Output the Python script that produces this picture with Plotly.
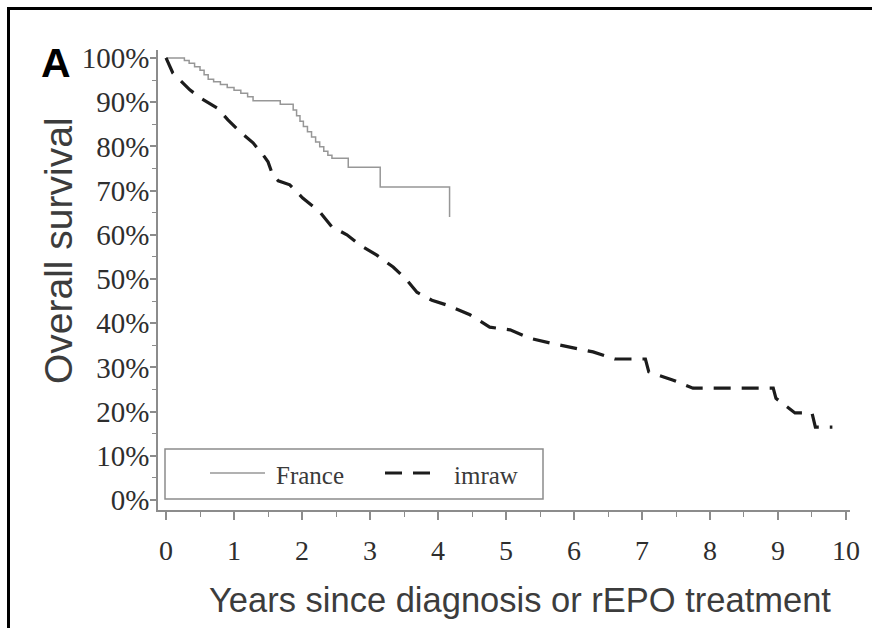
import plotly.graph_objects as go

# France: Kaplan-Meier steps, time (years) of each drop and survival (%) from then on
france_years = [0, 0.27, 0.34, 0.42, 0.50, 0.56, 0.62, 0.70, 0.80, 0.90, 1.00, 1.10, 1.20, 1.28,
                1.68, 1.87, 1.92, 1.97, 2.02, 2.08, 2.14, 2.20, 2.26, 2.32, 2.38, 2.44, 2.68,
                3.15, 4.17]
france_surv = [100, 99.4, 98.8, 98.0, 97.2, 96.2, 95.2, 94.6, 94.0, 93.3, 92.7, 92.0, 91.2, 90.3,
               89.5, 88.2, 86.9, 85.7, 84.5, 83.3, 82.1, 81.0, 79.9, 78.9, 78.0, 77.3, 75.3,
               70.8, 64.0]

# imraw: survival curve traced as a path of (years, survival %) vertices
imraw_years = [0, 0.10, 0.35, 0.50, 0.75, 0.91, 1.09, 1.28, 1.43, 1.50, 1.57, 1.65, 1.82, 2.01,
               2.26, 2.44, 2.66, 2.85, 3.10, 3.34, 3.54, 3.69, 3.91, 4.13, 4.47, 4.76, 5.06,
               5.35, 5.65, 5.99, 6.28, 6.60, 7.05, 7.10, 7.46, 7.75, 8.93, 8.97, 9.07, 9.25,
               9.50, 9.55, 9.80]
imraw_surv = [100, 96.6, 92.8, 91.0, 88.7, 86.0, 83.3, 80.8, 78.0, 76.5, 73.5, 72.2, 71.3, 68.3,
              65.2, 61.8, 60.0, 57.7, 55.4, 52.7, 49.8, 47.0, 45.2, 44.1, 41.9, 39.1, 38.5,
              36.6, 35.5, 34.4, 33.5, 31.9, 31.9, 29.0, 27.1, 25.3, 25.3, 23.0, 21.9, 19.7,
              19.7, 16.5, 16.5]

x_ticks = list(range(0, 11))
y_ticks = list(range(0, 101, 10))
y_tick_text = [f"{v}%" for v in y_ticks]
series_names = ["France", "imraw"]

W, H = 872, 628
ML, MR, MT, MB = 158, 22, 50, 118
PW, PH = W - ML - MR, H - MT - MB

def px(x):
    return (x - ML) / PW

def py(y):
    return (H - MB - y) / PH

AXIS = "#8c8c8c"
FRANCE_COLOR = "#979797"
IMRAW_COLOR = "#1c1c1c"
IMRAW_DASH = "17px,11px"
TICK_COLOR = "#2e2e2e"
SERIF = "Liberation Serif, Times New Roman, serif"
SANS = "Liberation Sans, Arial, sans-serif"

fig = go.Figure()
fig.add_trace(go.Scatter(x=france_years, y=france_surv, name=series_names[0], mode="lines",
                         line=dict(color=FRANCE_COLOR, width=1.5, shape="hv"), showlegend=False))
fig.add_trace(go.Scatter(x=imraw_years, y=imraw_surv, name=series_names[1], mode="lines",
                         line=dict(color=IMRAW_COLOR, width=3.2, dash=IMRAW_DASH),
                         showlegend=False))

fig.update_xaxes(range=[-0.118, 10.059], showgrid=False, zeroline=False,
                 showline=True, linecolor=AXIS, linewidth=1.5,
                 ticks="outside", ticklen=8, tickwidth=1.5, tickcolor=AXIS,
                 tickvals=x_ticks, ticktext=[str(v) for v in x_ticks],
                 tickfont=dict(family=SERIF, size=28, color=TICK_COLOR),
                 ticklabelstandoff=7,
                 minor=dict(ticks="outside", ticklen=5, tickwidth=1.2, tickcolor=AXIS,
                            tick0=0, dtick=0.5, showgrid=False))
fig.update_yaxes(range=[-2.26, 101.8], showgrid=False, zeroline=False,
                 showline=True, linecolor=AXIS, linewidth=1.5,
                 ticks="outside", ticklen=6, tickwidth=1.5, tickcolor=AXIS,
                 tickvals=y_ticks, ticktext=y_tick_text,
                 tickfont=dict(family=SERIF, size=29, color=TICK_COLOR),
                 ticklabelstandoff=-5,
                 minor=dict(ticks="outside", ticklen=4, tickwidth=1.2, tickcolor=AXIS,
                            tick0=0, dtick=5, showgrid=False))

shapes = [
    # outer frame (top and left edges)
    dict(type="line", xref="paper", yref="paper", x0=px(7), x1=px(W), y0=py(8.5), y1=py(8.5),
         line=dict(color="black", width=3)),
    dict(type="line", xref="paper", yref="paper", x0=px(8.5), x1=px(8.5), y0=py(7), y1=py(H),
         line=dict(color="black", width=3)),
    # legend box and keys
    dict(type="rect", xref="paper", yref="paper", x0=px(165), x1=px(543), y0=py(449), y1=py(499),
         line=dict(color=AXIS, width=1.5), fillcolor="rgba(0,0,0,0)"),
    dict(type="line", xref="paper", yref="paper", x0=px(210), x1=px(265), y0=py(473), y1=py(473),
         line=dict(color=FRANCE_COLOR, width=1.5)),
    dict(type="line", xref="paper", yref="paper", x0=px(385), x1=px(433), y0=py(473), y1=py(473),
         line=dict(color=IMRAW_COLOR, width=3.2, dash=IMRAW_DASH)),
]

annotations = [
    dict(text="France", x=px(274), y=py(475), xref="paper", yref="paper", xanchor="left",
         yanchor="middle", showarrow=False, font=dict(family=SERIF, size=25, color="#3a3a3a")),
    dict(text="imraw", x=px(452), y=py(475), xref="paper", yref="paper", xanchor="left",
         yanchor="middle", showarrow=False, font=dict(family=SERIF, size=25, color="#3a3a3a")),
    dict(text="Years since diagnosis or rEPO treatment", x=px(520), y=py(600), xref="paper",
         yref="paper", xanchor="center", yanchor="middle", showarrow=False,
         font=dict(family=SANS, size=34.5, color="#3c3c3c")),
    dict(text="Overall survival", x=px(58), y=py(250), xref="paper", yref="paper",
         xanchor="center", yanchor="middle", textangle=-90, showarrow=False,
         font=dict(family=SANS, size=39, color="#3c3c3c")),
    dict(text="<b>A</b>", x=px(56), y=py(63), xref="paper", yref="paper", xanchor="center",
         yanchor="middle", showarrow=False, font=dict(family=SANS, size=41, color="black")),
]

fig.update_layout(width=W, height=H, margin=dict(l=ML, r=MR, t=MT, b=MB, pad=0),
                  paper_bgcolor="white", plot_bgcolor="white",
                  shapes=shapes, annotations=annotations, showlegend=False)

fig.write_html("out.html")
